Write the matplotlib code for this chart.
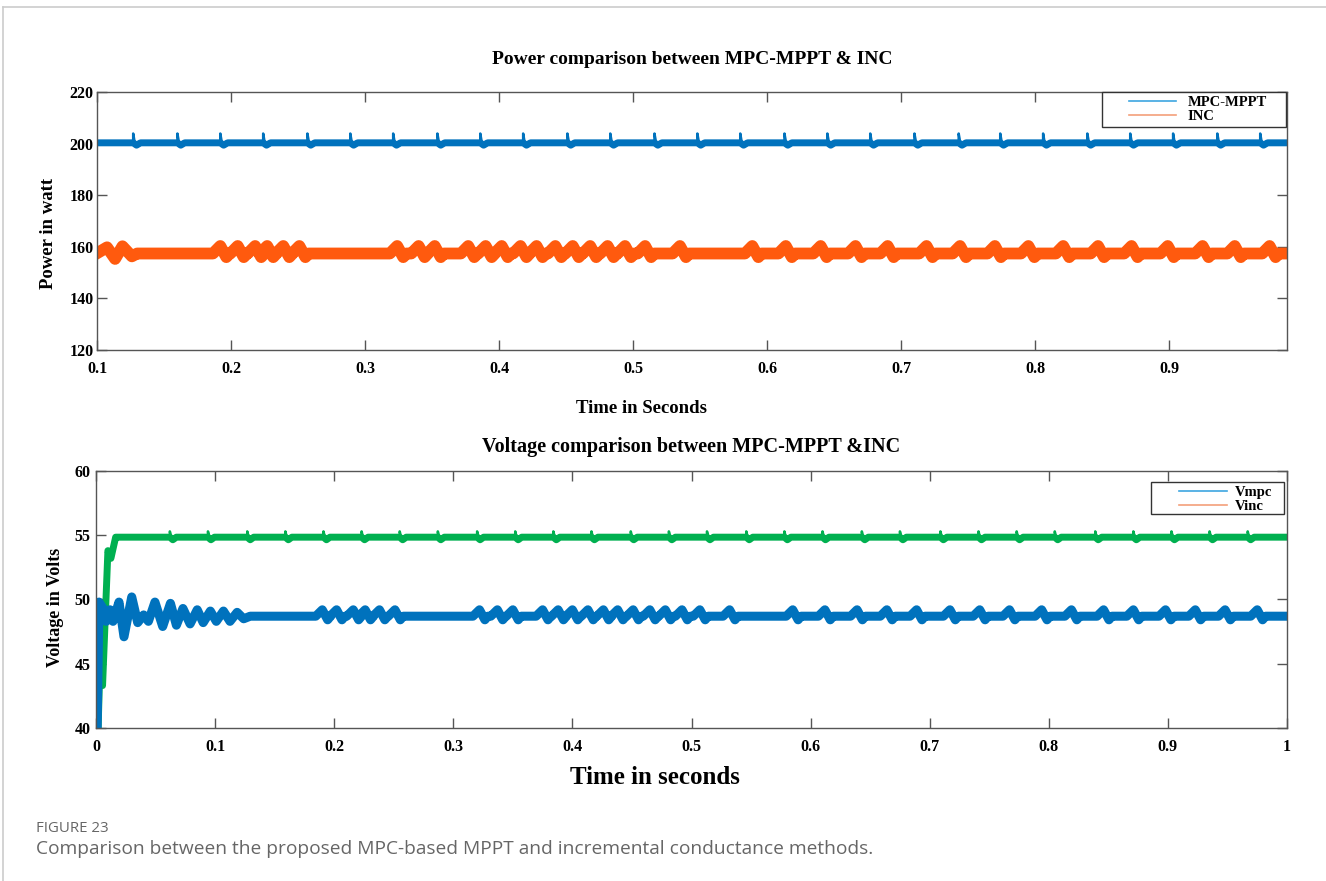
import matplotlib.pyplot as plt
import numpy as np
from matplotlib.lines import Line2D
from matplotlib.patches import Rectangle

# ---- values ----
# top panel: power (W) vs time (s)
p_mpc_level = 200.3
p_mpc_spikes = [0.127, 0.160, 0.192, 0.224, 0.257, 0.289, 0.321, 0.354, 0.386,
                0.418, 0.451, 0.483, 0.516, 0.548, 0.580, 0.613, 0.645, 0.677,
                0.710, 0.743, 0.774, 0.806, 0.839, 0.871, 0.903, 0.936, 0.968]
p_inc_level = 157.4
p_inc_start_t = [0.100, 0.1075, 0.1135, 0.119, 0.126, 0.130]
p_inc_start_v = [157.5, 159.8, 155.3, 160.2, 156.3, 157.4]
p_inc_bumps = [0.192, 0.205, 0.218, 0.227, 0.239, 0.251, 0.324, 0.340, 0.352,
               0.377, 0.390, 0.402, 0.416, 0.428, 0.442, 0.455, 0.468, 0.481,
               0.494, 0.509, 0.535, 0.589, 0.614, 0.640, 0.666, 0.690, 0.719,
               0.744, 0.770, 0.795, 0.821, 0.847, 0.872, 0.899, 0.925, 0.949,
               0.975]

# bottom panel: voltage (V) vs time (s)
v_inc_start_t = [0.0015, 0.0035, 0.0055, 0.010, 0.0125, 0.0165, 0.020]
v_inc_start_v = [39.0, 45.8, 43.3, 53.8, 53.2, 54.85, 54.85]
v_inc_level = 54.85
v_inc_spikes = [0.062, 0.094, 0.127, 0.159, 0.191, 0.223, 0.255, 0.287, 0.320,
                0.352, 0.384, 0.416, 0.449, 0.481, 0.513, 0.546, 0.578, 0.610,
                0.643, 0.675, 0.709, 0.741, 0.773, 0.805, 0.839, 0.871, 0.903,
                0.935, 0.967]
v_mpc_start_t = [0.0008, 0.0025, 0.006, 0.0085, 0.0118, 0.0143, 0.0193, 0.0235,
                 0.030, 0.035, 0.040, 0.044, 0.0495, 0.056, 0.0625, 0.0675,
                 0.0730, 0.0790, 0.0850, 0.0900, 0.0960, 0.1010, 0.1070,
                 0.1125, 0.1185, 0.1240, 0.1295]
v_mpc_start_v = [39.0, 49.8, 49.3, 48.3, 49.2, 48.3, 49.8, 47.1, 50.2, 48.2,
                 48.8, 48.3, 49.8, 47.9, 49.7, 48.0, 49.3, 48.1, 49.2, 48.2,
                 49.1, 48.3, 49.1, 48.3, 49.0, 48.5, 48.7]
v_mpc_level = 48.7
v_mpc_bumps = [0.190, 0.202, 0.216, 0.226, 0.238, 0.251, 0.322, 0.337, 0.350,
               0.375, 0.388, 0.400, 0.413, 0.426, 0.438, 0.451, 0.465, 0.478,
               0.492, 0.507, 0.532, 0.585, 0.612, 0.639, 0.664, 0.689, 0.717,
               0.742, 0.767, 0.794, 0.819, 0.846, 0.871, 0.898, 0.923, 0.948,
               0.975]


def band_path(t0, t1, level, spikes, down):
    # flat thick band with a small dip just after each spike
    t, v = [t0], [level]
    for s in spikes:
        t += [s, s + 0.0025, s + 0.0055]
        v += [level, level - down, level]
    t.append(t1)
    v.append(level)
    return t, v


def spike_marks(level, spikes, up):
    # thin vertical spikes sticking out of the band
    t, v = [], []
    for s in spikes:
        t += [s, s, s + 0.0012, np.nan]
        v += [level, level + up, level, np.nan]
    return t, v


def bump_path(start_t, start_v, t1, level, bumps, up, down):
    # humps: rise to a peak, fall into a dip, then back to the level
    t, v = list(start_t), list(start_v)
    for b in bumps:
        t += [b - 0.0055, b, b + 0.0045, b + 0.0070]
        v += [level, level + up, level - down, level]
    t.append(t1)
    v.append(level)
    return t, v


W, H = 1326, 881
fig = plt.figure(figsize=(W / 100, H / 100), dpi=100)
serif = 'Liberation Serif'

# light frame of the page
fig.add_artist(Line2D([3 / W, 1], [1 - 7 / H, 1 - 7 / H], color='#cccccc', lw=1.2))
fig.add_artist(Line2D([3 / W, 3 / W], [0, 1 - 7 / H], color='#cccccc', lw=1.2))


def style_axes(ax, ypad):
    for sp in ax.spines.values():
        sp.set_color('#555555')
        sp.set_linewidth(1.0)
    ax.tick_params(direction='in', length=7, width=1.0, color='#555555',
                   top=True, right=True, labelsize=11.5)
    ax.tick_params(axis='x', pad=8)
    ax.tick_params(axis='y', pad=ypad)
    for lab in ax.get_xticklabels() + ax.get_yticklabels():
        lab.set_fontfamily(serif)
        lab.set_fontweight('bold')


def legend_box(ax, labels, anchor, box, hlen, tpad):
    hs = [Line2D([], [], color='#3DA5E0', lw=1.2),
          Line2D([], [], color='#F4A07A', lw=1.2)]
    ax.legend(hs, labels, loc='upper left', bbox_to_anchor=anchor,
              frameon=False, borderpad=0, borderaxespad=0,
              labelspacing=0.05, handlelength=hlen, handletextpad=tpad,
              prop={'family': serif, 'weight': 'bold', 'size': 10.5})
    ax.add_patch(Rectangle(box[:2], box[2], box[3], transform=ax.transAxes,
                           facecolor='white', edgecolor='#333333', lw=1.0,
                           zorder=4, clip_on=False))


# ---- top panel ----
ax1 = fig.add_axes([97 / W, 1 - 350 / H, 1190 / W, 258 / H])
t, v = band_path(0.1, 0.988, p_mpc_level, p_mpc_spikes, 0.9)
ax1.plot(t, v, color='#0072BD', lw=5)
t, v = spike_marks(p_mpc_level, p_mpc_spikes, 3.6)
ax1.plot(t, v, color='#0072BD', lw=1.8)
t, v = bump_path(p_inc_start_t, p_inc_start_v, 0.988, p_inc_level,
                 p_inc_bumps, 2.9, 1.4)
ax1.plot(t, v, color='#FF5A0E', lw=8.5)
ax1.set_xlim(0.1, 0.988)
ax1.set_ylim(120, 220)
ax1.set_xticks(np.arange(0.1, 0.95, 0.1))
ax1.set_xticklabels(['0.1', '0.2', '0.3', '0.4', '0.5', '0.6', '0.7', '0.8', '0.9'])
ax1.set_yticks([120, 140, 160, 180, 200, 220])
style_axes(ax1, 2.5)
ax1.set_title('Power comparison between MPC-MPPT & INC', fontfamily=serif,
              fontweight='bold', fontsize=14, pad=20)
ax1.set_xlabel('Time in Seconds', fontfamily=serif, fontweight='bold',
               fontsize=13.5)
ax1.xaxis.set_label_coords((641 - 97) / 1190, -(400 - 350) / 258)
ax1.set_ylabel('Power in watt', fontfamily=serif, fontweight='bold',
               fontsize=13.5)
ax1.yaxis.set_label_coords(-(97 - 57) / 1190, (350 - 233) / 258)
legend_box(ax1, ['MPC-MPPT', 'INC'], ((1129 - 97) / 1190, 1 - 4 / 258),
           ((1102 - 97) / 1190, 1 - 35 / 258, 184 / 1190, 35 / 258), 3.2, 0.8)

# ---- bottom panel ----
ax2 = fig.add_axes([96 / W, 1 - 728 / H, 1191 / W, 257 / H])
t, v = band_path(0.0, 1.0, v_inc_level, v_inc_spikes, 0.2)
keep = [i for i, x in enumerate(t) if x > 0.02]
ax2.plot(v_inc_start_t + [t[i] for i in keep],
         v_inc_start_v + [v[i] for i in keep], color='#00B050', lw=5)
t, v = spike_marks(v_inc_level, v_inc_spikes, 0.45)
ax2.plot(t, v, color='#00B050', lw=1.8)
t, v = bump_path(v_mpc_start_t, v_mpc_start_v, 1.0, v_mpc_level,
                 v_mpc_bumps, 0.5, 0.28)
ax2.plot(t, v, color='#0072BD', lw=6.5)
ax2.set_xlim(0, 1)
ax2.set_ylim(40, 60)
ax2.set_xticks(np.arange(0, 1.05, 0.1))
ax2.set_xticklabels(['0', '0.1', '0.2', '0.3', '0.4', '0.5', '0.6', '0.7',
                     '0.8', '0.9', '1'])
ax2.set_yticks([40, 45, 50, 55, 60])
style_axes(ax2, 4)
ax2.set_title('Voltage comparison between MPC-MPPT &INC', fontfamily=serif,
              fontweight='bold', fontsize=14.5, pad=14)
ax2.set_xlabel('Time in seconds', fontfamily=serif, fontweight='bold',
               fontsize=18)
ax2.xaxis.set_label_coords((655 - 96) / 1191, -(766 - 728) / 257)
ax2.set_ylabel('Voltage in Volts', fontfamily=serif, fontweight='bold',
               fontsize=13)
ax2.yaxis.set_label_coords(-(96 - 64) / 1191, (728 - 607) / 257)
legend_box(ax2, ['Vmpc', 'Vinc'], ((1179 - 96) / 1191, 1 - 15 / 257),
           ((1151 - 96) / 1191, 1 - 43 / 257, 133 / 1191, 32 / 257), 3.3, 0.55)

# ---- caption ----
fig.text(36 / W, 1 - 829 / H, 'FIGURE 23', fontfamily='Open Sans',
         fontsize=10.8, color='#666666', va='center')
fig.text(36 / W, 1 - 849 / H,
         'Comparison between the proposed MPC-based MPPT and incremental conductance methods.',
         fontfamily='Open Sans', fontsize=13.8, color='#666666', va='center')

fig.savefig('out.png', dpi=100)
